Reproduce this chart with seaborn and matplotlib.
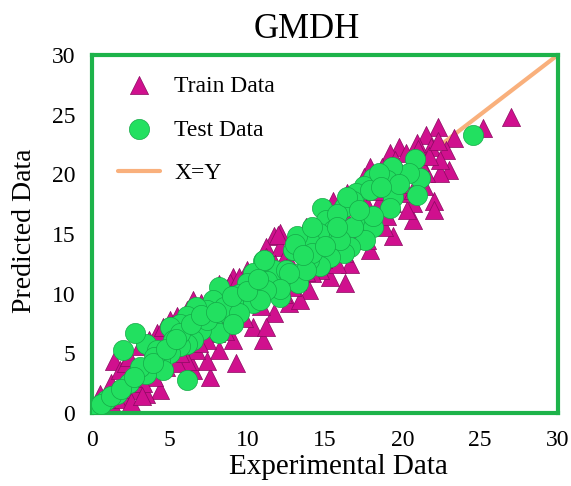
import matplotlib
matplotlib.use("Agg")
import matplotlib.pyplot as plt
import seaborn as sns
import pandas as pd

train_x = [27.0,25.2,22.3,23.3,22.8,21.5,21.8,20.9,19.8,19.2,23.0,22.4,22.0,22.0,20.7,20.7,20.3,19.4,18.8,17.9,
           17.9,17.5,17.0,16.6,16.3,15.3,14.0,12.7,11.7,11.0,10.4,9.1,9.3,8.2,7.6,7.4,6.5,6.3,4.4,3.5,
           2.9,2.1,1.2,0.7,1.2,1.4,1.8,2.2,4.2,5.0,6.5,8.2,9.1,10.0,11.7,12.1,11.2,15.5,16.4,17.9,
           11.2,12.3,13.4,14.7,15.8,19.0,20.0,20.7,21.5,22.4,18.5,17.3,17.7,16.8,16.2,15.1,14.2,13.2,12.1,10.8,
           10.4,9.5,8.7,8.0,7.4,6.7,6.1,5.5,4.8,4.0,3.3,2.7,2.4,3.1,3.7,4.6,5.5,6.1,7.0,7.8,
           8.9,9.5,10.6,11.2,12.1,13.0,13.8,14.7,15.3,16.0,16.8,17.5,18.3,18.7,19.5,20.2,21.0,0.5,1.3,3.0,
           3.8,4.4,5.2,5.8,6.6,7.2,7.9,8.5,9.2,9.8,10.5,11.0,11.8,12.5,13.1,13.7,14.4,15.0,15.6,16.3,
           17.0,17.6,18.2,18.9,19.6,20.3,21.1,21.7,22.3,6.9,8.6,9.8,10.9,11.5,12.9,13.8,14.9,16.0,17.2,18.0,
           19.3,20.0,21.4,2.0,2.6,1.6,0.9,4.9,5.7,3.9,2.5,3.2,12.0]
train_y = [24.8,23.9,24.0,23.0,22.0,23.3,22.3,22.6,22.3,21.8,20.4,20.1,17.8,17.0,16.2,17.6,17.0,14.8,15.6,13.7,
           20.6,19.8,15.3,12.5,10.9,11.4,10.3,9.2,8.4,6.1,7.2,6.1,4.2,5.3,3.0,4.4,3.6,4.4,1.9,1.6,
           1.9,1.4,0.0,0.5,2.5,4.4,3.6,4.2,6.7,7.8,9.5,10.8,11.4,12.0,14.8,15.1,13.9,17.8,18.4,19.4,
           7.2,10.0,9.5,12.0,12.5,16.5,18.4,18.7,20.1,21.2,17.6,16.5,14.5,14.5,13.4,13.1,11.7,11.1,12.0,10.6,
           10.0,8.9,7.8,6.7,6.1,5.3,4.4,4.2,3.9,3.0,2.5,3.3,4.7,5.6,6.1,7.2,8.1,8.6,9.2,10.0,
           10.9,11.4,12.3,13.1,13.9,14.8,15.6,16.2,16.7,17.3,18.1,18.7,20.1,20.6,21.2,21.8,22.1,1.6,0.8,3.9,
           4.4,5.0,5.6,6.4,7.0,7.6,8.3,9.2,9.7,10.3,11.0,11.7,12.5,13.2,13.6,14.2,14.8,15.2,16.0,16.5,
           17.4,17.8,18.6,19.0,19.7,20.4,21.0,21.5,22.8,5.9,6.9,8.0,9.0,10.4,10.6,11.8,12.9,14.0,14.9,16.0,
           17.6,19.2,19.0,2.0,2.9,1.2,1.2,5.1,5.0,4.9,0.9,1.4,14.9]

test_x = [24.55,20.8,21.1,20.9,20.4,19.3,19.4,19.2,19.0,18.1,17.5,17.0,16.8,16.2,17.7,18.1,17.6,16.6,16.2,15.3,
          14.7,14.0,14.8,15.1,15.5,14.6,14.0,13.2,12.96,13.4,13.3,12.1,12.1,11.7,11.0,10.4,9.96,9.5,10.4,9.1,
          8.7,8.2,7.8,7.4,6.7,6.1,5.7,5.0,7.8,8.2,7.0,6.5,6.1,5.7,5.0,4.4,4.6,3.5,3.5,2.8,
          2.0,2.4,6.1,1.6,0.9,0.3,0.6,11.1,8.5,9.5,9.1,7.4,5.7,5.2,4.2,4.0,3.1,11.3,12.5,13.1,
          14.2,15.8,16.4,17.9,18.5,19.8,18.1,16.8,16.0,14.2,13.8,12.7,12.1,11.2,10.8,1.2,1.9,2.7,3.9,4.8,
          5.4,6.4,7.0,8.0,9.0,10.0,10.7,13.6,15.0,15.8,17.2,18.6]
test_y = [23.3,21.3,19.7,18.3,20.1,20.6,18.1,17.2,19.5,19.7,19.0,18.4,17.8,17.3,16.2,15.6,14.5,13.9,13.4,13.1,
          12.3,12.8,17.2,16.2,15.3,15.1,14.5,14.8,13.7,11.7,10.9,9.7,11.1,12.0,12.7,11.7,10.9,10.0,9.2,9.2,
          8.4,10.6,9.5,8.6,8.9,8.1,7.5,7.2,7.2,6.7,7.0,6.1,5.8,5.6,5.0,4.4,3.6,3.3,5.8,6.7,
          5.3,2.5,2.8,1.6,1.1,0.5,0.8,12.8,8.9,8.4,7.5,7.8,6.7,6.1,5.3,4.7,3.9,11.1,12.0,14.2,
          15.6,16.7,18.1,18.7,20.1,19.2,16.5,15.6,14.5,13.4,12.0,11.7,10.4,10.3,9.5,1.4,2.0,3.0,4.2,5.4,
          6.2,7.5,8.2,8.5,9.8,10.2,11.2,13.2,14.0,15.6,17.0,18.9]

line_x = [0, 30]
line_y = [0, 30]
ticks = [0, 5, 10, 15, 20, 25, 30]

train = pd.DataFrame({"x": train_x, "y": train_y})
test = pd.DataFrame({"x": test_x, "y": test_y})
ref = pd.DataFrame({"x": line_x, "y": line_y})

sns.set_theme(style="white")
plt.rcParams["font.family"] = ["Liberation Serif", "DejaVu Serif"]
plt.rcParams["text.color"] = "black"
plt.rcParams["axes.labelcolor"] = "black"
plt.rcParams["xtick.color"] = "black"
plt.rcParams["ytick.color"] = "black"

fig = plt.figure(figsize=(5.71, 4.86), dpi=100)
ax = fig.add_axes([0.161, 0.150, 0.816, 0.737])

sns.lineplot(data=ref, x="x", y="y", ax=ax, color="#f9b07c", lw=3, label="X=Y", zorder=1)
sns.scatterplot(data=train, x="x", y="y", ax=ax, marker="^", s=170, color="#d0108e",
                edgecolor="#8a0a60", linewidth=0.5, label="Train Data", zorder=2)
sns.scatterplot(data=test, x="x", y="y", ax=ax, marker="o", s=210, color="#22e060",
                edgecolor="#15a847", linewidth=0.5, label="Test Data", zorder=3)

ax.set_xlim(0, 30)
ax.set_ylim(0, 30)
ax.set_xticks(ticks)
ax.set_yticks(ticks)
ax.tick_params(axis="both", length=0, labelsize=17, pad=12)
ax.set_xlabel("Experimental Data", fontsize=21)
ax.set_ylabel("Predicted Data", fontsize=20)
ax.xaxis.set_label_coords(0.53, -0.115)
ax.yaxis.set_label_coords(-0.118, 0.51)
ax.set_title("GMDH", fontsize=25, x=0.46, pad=12)
for sp in ax.spines.values():
    sp.set_color("#1db34a")
    sp.set_linewidth(3)
    sp.set_visible(True)

h, l = ax.get_legend_handles_labels()
order = [l.index("Train Data"), l.index("Test Data"), l.index("X=Y")]
ax.legend([h[i] for i in order], [l[i] for i in order], loc="upper left", frameon=False,
          fontsize=17, labelspacing=0.95, handlelength=1.8, handletextpad=0.6,
          borderaxespad=0.3, bbox_to_anchor=(0.02, 0.99), markerscale=1.0)

fig.savefig("out.png", dpi=100)
